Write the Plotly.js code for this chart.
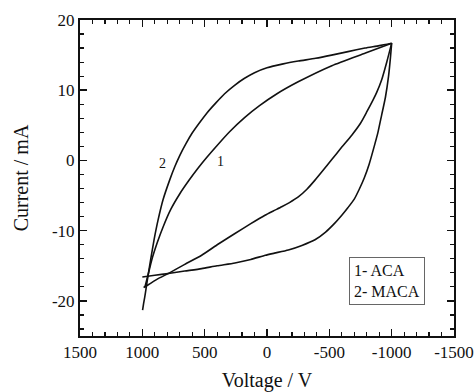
<!DOCTYPE html>
<html>
<head>
<meta charset="utf-8">
<script src="https://cdn.plot.ly/plotly-3.0.1.min.js"></script>
<style>html,body{margin:0;padding:0;background:#fff;}#chart{width:476px;height:392px;}</style>
</head>
<body>
<div id="chart"></div>
<script>
// ACA (curve 1)
var acaUpV = [980, 950, 925, 880, 832, 770, 698, 630, 560, 484, 400, 300, 180, 60, -80, -250, -520, -790, -1000];
var acaUpI = [-18.1, -16.0, -14.2, -11.7, -9.4, -6.9, -4.7, -2.93, -1.25, 0.42, 2.14, 4.09, 6.1, 7.8, 9.5, 11.2, 13.5, 15.3, 16.7];
var acaLoV = [-1000, -962, -920, -880, -850, -800, -750, -680, -600, -518, -450, -385, -320, -251, -180, -118, -50, 16, 130, 257, 390, 524, 660, 792, 880, 952, 990];
var acaLoI = [16.7, 14.1, 11.5, 9.7, 8.6, 6.9, 5.3, 3.6, 1.9, 0.1, -1.4, -2.8, -4.1, -5.2, -6.0, -6.6, -7.2, -7.8, -9.0, -10.4, -11.9, -13.5, -14.8, -16.1, -16.9, -17.7, -18.1];
// MACA (curve 2)
var macaUpV = [998, 990, 981, 968, 955, 933, 906, 874, 834, 781, 740, 700, 650, 600, 540, 480, 410, 340, 260, 180, 100, 0, -130, -251, -390, -518, -650, -786, -900, -1000];
var macaUpI = [-21.3, -20.4, -19.5, -18.0, -16.5, -14.1, -11.3, -8.5, -5.6, -2.8, -0.9, 0.7, 2.4, 3.9, 5.4, 6.8, 8.2, 9.5, 10.7, 11.7, 12.5, 13.2, 13.75, 14.15, 14.55, 15.0, 15.5, 16.0, 16.35, 16.7];
var macaLoV = [-1000, -990, -975, -950, -920, -890, -860, -820, -780, -740, -700, -650, -600, -540, -470, -385, -280, -171, -60, 13, 130, 257, 400, 524, 660, 792, 900, 1000];
var macaLoI = [16.7, 14.6, 12.0, 9.0, 6.5, 4.0, 2.0, -0.5, -2.5, -4.1, -5.5, -6.7, -7.8, -9.0, -10.2, -11.3, -12.1, -12.75, -13.2, -13.5, -14.1, -14.6, -15.0, -15.4, -15.75, -16.1, -16.35, -16.6];

var xTickVals = [1500, 1000, 500, 0, -500, -1000, -1500];
var xTickText = ['1500', '1000', '500', '0', '-500', '-1000', '-1500'];
var yTickVals = [-20, -10, 0, 10, 20];
var yTickText = ['-20', '-10', '0', '10', '20'];
var legendLines = ['1- ACA', '2- MACA'];
var curveLabels = ['1', '2'];
var curveLabelV = [373, 837];
var curveLabelI = [-0.2, -0.4];

var SERIF = 'Liberation Serif, Times New Roman, serif';
var lineStyle = {color: '#111', width: 1.6, shape: 'spline', smoothing: 0.6};
function tr(x, y) { return {x: x, y: y, mode: 'lines', line: lineStyle, showlegend: false, hoverinfo: 'skip'}; }
var data = [tr(acaUpV, acaUpI), tr(acaLoV, acaLoI), tr(macaUpV, macaUpI), tr(macaLoV, macaLoI)];

var annotations = curveLabels.map(function (t, i) {
  return {x: curveLabelV[i], y: curveLabelI[i], xref: 'x', yref: 'y', text: t, showarrow: false,
          font: {family: SERIF, size: 14, color: '#111'}};
});
annotations.push({
  xref: 'paper', yref: 'paper', x: 0.72, y: 0.249, xanchor: 'left', yanchor: 'top',
  text: legendLines.join('<br>'), align: 'left', showarrow: false,
  font: {family: SERIF, size: 16, color: '#111'},
  bordercolor: '#666', borderwidth: 1, borderpad: 4, bgcolor: '#fff'
});

var layout = {
  width: 476, height: 392,
  margin: {l: 80, r: 22, t: 20, b: 56},
  paper_bgcolor: '#fff', plot_bgcolor: '#fff',
  font: {family: SERIF, size: 17, color: '#111'},
  xaxis: {
    range: [1500, -1500], tickmode: 'array', tickvals: xTickVals, ticktext: xTickText,
    tickfont: {family: SERIF, size: 17, color: '#111'},
    showgrid: false, zeroline: false, showline: true, linecolor: '#111', linewidth: 2,
    mirror: 'allticks', ticks: 'inside', ticklen: 7, tickwidth: 1.5, tickcolor: '#111',
    minor: {dtick: 100, tick0: 0, ticks: 'inside', ticklen: 4, tickwidth: 1.2, tickcolor: '#111'},
    title: {text: 'Voltage / V', font: {family: SERIF, size: 20, color: '#111'}, standoff: 14}
  },
  yaxis: {
    range: [-25, 20], tickmode: 'array', tickvals: yTickVals, ticktext: yTickText,
    tickfont: {family: SERIF, size: 17, color: '#111'},
    showgrid: false, zeroline: false, showline: true, linecolor: '#111', linewidth: 2,
    mirror: 'allticks', ticks: 'inside', ticklen: 7, tickwidth: 1.5, tickcolor: '#111',
    minor: {dtick: 2, tick0: 0, ticks: 'inside', ticklen: 4, tickwidth: 1.2, tickcolor: '#111'},
    title: {text: 'Current / mA', font: {family: SERIF, size: 20, color: '#111'}, standoff: 18}
  },
  annotations: annotations,
  showlegend: false
};

Plotly.newPlot('chart', data, layout, {displayModeBar: false, staticPlot: true});
</script>
</body>
</html>
